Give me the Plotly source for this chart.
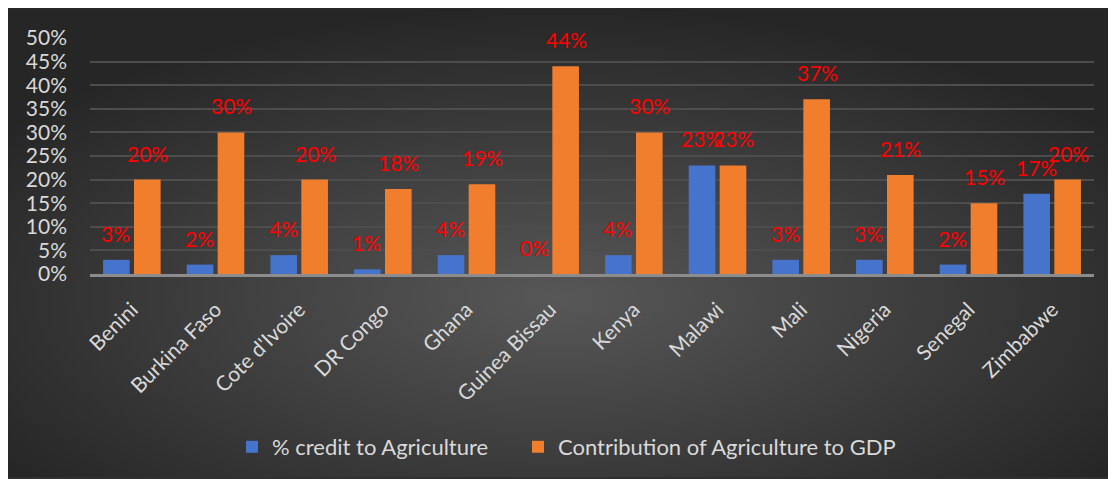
import base64
import plotly.graph_objects as go

countries = ["Benini", "Burkina Faso", "Cote d'Ivoire", "DR Congo", "Ghana", "Guinea Bissau",
             "Kenya", "Malawi", "Mali", "Nigeria", "Senegal", "Zimbabwe"]
credit = [0.03, 0.02, 0.04, 0.01, 0.04, 0.00, 0.04, 0.23, 0.03, 0.03, 0.02, 0.17]
gdp = [0.20, 0.30, 0.20, 0.18, 0.19, 0.44, 0.30, 0.23, 0.37, 0.21, 0.15, 0.20]
series_names = ["% credit to Agriculture", "Contribution of Agriculture to GDP"]
y_ticks = [0, 0.05, 0.10, 0.15, 0.20, 0.25, 0.30, 0.35, 0.40, 0.45, 0.50]

FONT = "Lato"
TXT = "#d9d9d9"

W, H = 1100, 471
L, R, T, B = 82, 14, 30, 204
pw, ph = W - L - R, H - T - B

svg = """<svg xmlns='http://www.w3.org/2000/svg' width='1100' height='471' viewBox='0 0 1100 471' preserveAspectRatio='none'>
<defs><radialGradient id='g' cx='50%' cy='62%' r='62%' fx='50%' fy='62%'>
<stop offset='0%' stop-color='#575757'/><stop offset='100%' stop-color='#262626'/></radialGradient></defs>
<rect width='1100' height='471' fill='url(#g)'/></svg>"""
bg_src = "data:image/svg+xml;base64," + base64.b64encode(svg.encode()).decode()

fig = go.Figure()
fig.add_trace(go.Bar(x=countries, y=credit, name=series_names[0], legend="legend",
                     showlegend=True,
                     marker=dict(color="#4673cb", line=dict(width=0))))
fig.add_trace(go.Bar(x=countries, y=gdp, name=series_names[1], legend="legend2",
                     showlegend=True,
                     marker=dict(color="#f07e2c", line=dict(width=0))))

annotations = []
for c, v in zip(countries, credit):
    annotations.append(dict(x=c, y=v, xref="x", yref="y", text=f"{round(v*100)}%",
                            showarrow=False, xshift=-16, yshift=12, yanchor="bottom",
                            font=dict(family=FONT, size=21, color="#ff0000")))
for c, v in zip(countries, gdp):
    annotations.append(dict(x=c, y=v, xref="x", yref="y", text=f"{round(v*100)}%",
                            showarrow=False, xshift=16, yshift=12, yanchor="bottom",
                            font=dict(family=FONT, size=21, color="#ff0000")))

leg_common = dict(orientation="h", yanchor="middle", y=(267 - 439) / ph,
                  font=dict(family=FONT, size=22, color=TXT), visible=True,
                  bgcolor="rgba(0,0,0,0)", itemwidth=30, xanchor="left")

fig.update_layout(
    width=W, height=H,
    margin=dict(l=L, r=R, t=T, b=B),
    paper_bgcolor="#303030",
    plot_bgcolor="rgba(0,0,0,0)",
    showlegend=True,
    barmode="group", bargap=0.26, bargroupgap=0.14,
    font=dict(family=FONT, color=TXT, size=21),
    annotations=annotations,
    images=[dict(source=bg_src, xref="paper", yref="paper",
                 x=-L / pw, y=(H - B) / ph,
                 sizex=W / pw, sizey=H / ph, xanchor="left", yanchor="top",
                 sizing="stretch", layer="below")],
    legend=dict(x=(224 - L) / pw, **leg_common),
    legend2=dict(x=(510 - L) / pw, **leg_common),
    xaxis=dict(tickangle=-45, tickfont=dict(family=FONT, size=21, color=TXT),
               showline=True, linecolor="#8c8c8c", linewidth=3, ticks="",
               showgrid=False, ticklabelstandoff=12),
    yaxis=dict(range=[0, 0.5], tickvals=y_ticks, tickformat=".0%",
               tickfont=dict(family=FONT, size=21, color=TXT),
               showgrid=True, gridcolor="#4d4d4d", gridwidth=2,
               zeroline=False, showline=False, ticks="", ticklabelstandoff=22),
)

fig.write_html("out.html")
